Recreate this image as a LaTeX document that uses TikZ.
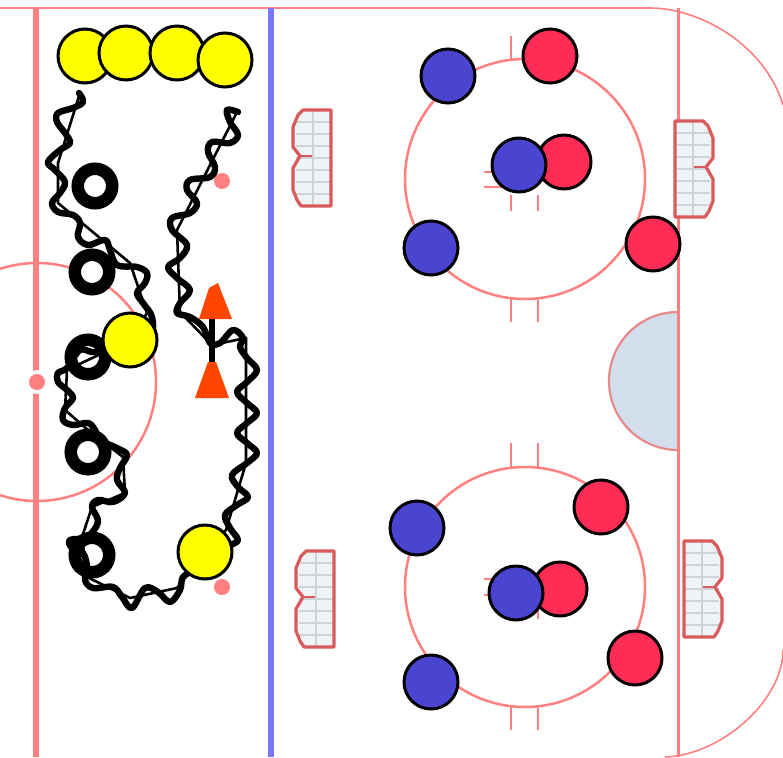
\documentclass[tikz,border=0pt]{standalone}
\definecolor{rinkred}{HTML}{FF8080}
\definecolor{rinkblue}{HTML}{7777FF}
\definecolor{creasefill}{HTML}{D3DEEC}
\definecolor{crease}{HTML}{E88A8A}
\definecolor{plyellow}{HTML}{FFFF00}
\definecolor{plred}{HTML}{FF2D55}
\definecolor{plblue}{HTML}{4A45D0}
\definecolor{coneorange}{HTML}{FF4500}
\definecolor{goalred}{HTML}{D85A5A}
\definecolor{goalgrid}{HTML}{CFD3D6}
\definecolor{goalfill}{HTML}{EEF3F5}
\tikzset{
  player/.style={circle,draw=black,line width=3pt,minimum size=54pt,inner sep=0pt},
  yellowp/.style={player,fill=plyellow},
  redp/.style={player,fill=plred},
  bluep/.style={player,fill=plblue},
  ring/.style={circle,draw=black,line width=12.5pt,fill=white,minimum size=34.5pt,inner sep=0pt},
  rinkline/.style={draw=rinkred,line width=2.5pt},
  hash/.style={draw=rinkred,line width=2.5pt},
  dot/.style={circle,fill=rinkred,minimum size=16pt,inner sep=0pt},
  cone/.style={fill=coneorange,draw=none},
  skate/.style={draw=black,line width=2.6pt,line join=round},
  skatewave/.style={draw=black,line width=6.4pt,line join=round,line cap=round},
  goalpic/.pic={
    \fill[goalfill] (38,0) -- (10,0) -- (0,17) -- (0,37) -- (7,47) -- (0,58) -- (0,80) -- (8,96) -- (38,96) -- cycle;
    \foreach \yy in {12,24,36,48,60,72,84} \draw[goalgrid,line width=1.2pt] (3,\yy) -- (38,\yy);
    \draw[goalgrid,line width=2pt] (20,1) -- (20,96);
    \draw[goalred,line width=3.2pt,line join=round] (38,0) -- (10,0) -- (5,5) -- (0,17) -- (0,37) -- (7,46) -- (0,58) -- (0,80) -- (4,90) -- (8,96) -- (38,96) -- cycle;
    \draw[goalred,line width=2.4pt] (7,46) -- (19,46);
  }
}
\begin{document}
\begin{tikzpicture}[x=1pt,y=-1pt]
\useasboundingbox (0,0) rectangle (783,757);
\fill[white] (0,0) rectangle (783,757);
% boards
\draw[rinkline,line width=1.6pt] (0,8) -- (650,8) .. controls (700,8) and (765,45) .. (783,105);
\draw[rinkline,line width=1.6pt] (783,650) .. controls (783,700) and (722,755) .. (665,757);
% circles
\draw[rinkline] (525,179) circle[radius=120];
\draw[rinkline] (525,587) circle[radius=120];
\draw[rinkline] (37,382) circle[radius=119];
% hash marks
\foreach \yy/\yb in {36/60,298/322,443/467,706/730,195/211,603/619}{
  \draw[hash] (511,\yy) -- (511,\yb);
  \draw[hash] (538,\yy) -- (538,\yb);
}
\foreach \yy in {172,187,579,595} \draw[hash] (484,\yy) -- (512,\yy);
% crease
\path[fill=creasefill,draw=crease,line width=2.2pt] (678,312) arc[start angle=270,end angle=90,radius=69];
% lines
\draw[rinkline,line width=3pt] (678,8) -- (678,757);
\draw[draw=rinkred,line width=6pt] (36,8) -- (36,757);
\draw[draw=rinkblue,line width=6pt] (271,8) -- (271,757);
\node[circle,fill=white,minimum size=24pt,inner sep=0pt] (cgap) at (37,382) {};
\node[dot] (cdot) at (37,382) {};
\node[dot] (d1) at (222,181) {};
\node[dot] (d2) at (222,587) {};
% goals
\pic at (293,110) {goalpic};
\pic at (296,551) {goalpic};
\pic[xscale=-1] at (713,121) {goalpic};
\pic[xscale=-1] at (722,541) {goalpic};
% rings
\node[ring] (r1) at (95,186) {};
\node[ring] (r2) at (92,272) {};
\node[ring] (r3) at (88,357) {};
\node[ring] (r4) at (88,452) {};
\node[ring] (r5) at (92,555) {};
% bar between the cones
\draw[black,line width=5.5pt] (212,318) -- (212,362);
% skating routes: chords
\draw[skate] (80,93) -- (58,163) -- (58,203) -- (130,263) -- (147,313) -- (130,340) -- (67,370) -- (65,410) -- (88,430) -- (123,457) -- (125,493) -- (92,507) -- (82,537) -- (87,577) -- (130,598) -- (177,588) -- (205,552);
\draw[skate] (237,112) -- (177,230) -- (180,312) -- (212,345) -- (246,338) -- (246,463) -- (226,530) -- (205,552);
% skating routes: waves
\draw[skatewave] plot[smooth,tension=0.6] coordinates {(79,93) (83,102) (73,108) (58,113) (57,122) (65,133) (70,143) (60,150) (48,162) (55,170) (65,182) (60,193) (52,203) (58,212) (73,215) (80,223) (78,237) (88,245) (105,240) (110,250) (117,265) (137,267) (147,273) (145,283) (137,293) (143,303) (152,317) (150,335) (125,345) (95,352) (80,350) (67,368) (58,373) (58,382) (67,390) (73,398) (65,408) (63,420) (73,425) (88,423) (95,430) (100,440) (117,448) (127,455) (120,468) (117,480) (125,493) (113,502) (98,500) (92,507) (98,522) (87,537) (70,540) (72,548) (83,553) (87,567) (85,580) (93,588) (113,587) (122,597) (132,608) (145,588) (158,592) (170,602) (180,590) (183,577) (195,570)};
\draw[skatewave] plot[smooth,tension=0.6] coordinates {(238,112) (227,110) (230,122) (238,135) (230,143) (212,142) (208,152) (215,167) (210,177) (190,180) (187,190) (197,203) (190,213) (172,218) (172,230) (187,245) (180,258) (168,267) (177,278) (190,290) (180,303) (177,313) (190,317) (203,327) (210,343) (220,343) (233,330) (243,338) (240,347) (247,358) (257,370) (247,382) (237,392) (247,403) (257,413) (247,423) (237,433) (247,443) (257,453) (247,463) (232,475) (238,487) (248,497) (237,505) (225,515) (230,528) (238,540) (230,545)};
% cones
\fill[cone] (199,319) -- (209,288) -- (218,283) -- (232,319) -- cycle;
\fill[cone] (195,398) -- (208,362) -- (216,362) -- (229,398) -- cycle;
% yellow players
\node[yellowp] (y1) at (85,56) {};
\node[yellowp] (y2) at (126,53) {};
\node[yellowp] (y3) at (177,53) {};
\node[yellowp] (y4) at (225,60) {};
\node[yellowp] (y5) at (130,340) {};
\node[yellowp] (y6) at (205,552) {};
% defenders
\node[bluep] (b1p) at (448,76) {};
\node[redp] (r1p) at (550,56) {};
\node[redp] (r2p) at (564,162) {};
\node[bluep] (b2p) at (519,165) {};
\node[bluep] (b3p) at (431,248) {};
\node[redp] (r3p) at (653,244) {};
\node[bluep] (b4p) at (417,528) {};
\node[redp] (r4p) at (601,507) {};
\node[redp] (r5p) at (560,589) {};
\node[bluep] (b5p) at (516,593) {};
\node[bluep] (b6p) at (431,682) {};
\node[redp] (r6p) at (635,658) {};
\end{tikzpicture}
\end{document}
